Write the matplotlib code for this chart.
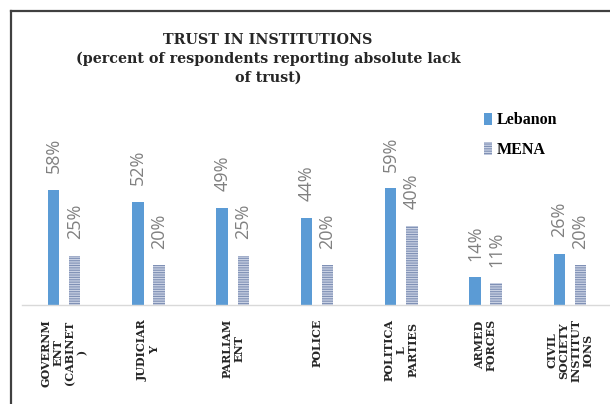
import matplotlib
matplotlib.use("Agg")
import matplotlib.pyplot as plt
from matplotlib.lines import Line2D
import numpy as np

# Trust in institutions data (percent reporting absolute lack of trust)
categories = ["GOVERNM\nENT\n(CABINET\n)", "JUDICIAR\nY", "PARLIAM\nENT", "POLICE",
              "POLITICA\nL\nPARTIES", "ARMED\nFORCES", "CIVIL\nSOCIETY\nINSTITUT\nIONS"]
lebanon = [58, 52, 49, 44, 59, 14, 26]
mena = [25, 20, 25, 20, 40, 11, 20]

LEB_COLOR = '#5b9bd5'
MENA_FACE = '#c9d1e3'
MENA_LINES = '#7f90b5'
LABEL_GRAY = '#808080'

plt.rcParams['hatch.linewidth'] = 0.8

fig = plt.figure(figsize=(6.10, 4.04), dpi=100)
ax = fig.add_axes([22 / 610, 99 / 404, 590 / 610, 138.6 / 404])

x = np.arange(len(categories))
w = 0.136
off = 0.125

b1 = ax.bar(x - off, lebanon, w, color=LEB_COLOR, label='Lebanon')
b2 = ax.bar(x + off, mena, w, color=MENA_FACE, edgecolor=MENA_LINES,
            linewidth=0, hatch='-------', label='MENA')

# rotated value labels above each bar
for bars, vals in ((b1, lebanon), (b2, mena)):
    for rect, v in zip(bars, vals):
        ax.annotate(f"{v}%", (rect.get_x() + rect.get_width() / 2, v),
                    xytext=(0, 12), textcoords='offset points',
                    rotation=90, ha='center', va='bottom',
                    fontsize=13, color=LABEL_GRAY, family='Open Sans')

ax.set_xlim(-0.5, len(categories) - 0.5)
ax.set_ylim(0, 70)
ax.set_yticks([])
ax.set_xticks(x)
ax.set_xticklabels(categories, rotation=90, ha='center', va='top',
                   multialignment='center', fontsize=8, fontweight='bold',
                   family='DejaVu Serif', linespacing=1.1, color='#262626')
ax.tick_params(axis='x', length=0, pad=10)
for s in ('top', 'right', 'left'):
    ax.spines[s].set_visible(False)
ax.spines['bottom'].set_color('#d9d9d9')
ax.spines['bottom'].set_linewidth(1)

fig.text(268 / 610, 1 - 59 / 404,
         "TRUST IN INSTITUTIONS\n(percent of respondents reporting absolute lack\nof trust)",
         ha='center', va='center', multialignment='center', fontsize=10.3,
         fontweight='bold', family='DejaVu Serif', linespacing=1.42,
         color='#262626')

leg = fig.legend(handles=[b1, b2], loc='upper left',
                 bbox_to_anchor=(470 / 610, 1 - 98 / 404), frameon=False,
                 prop={'family': 'Liberation Serif', 'weight': 'bold', 'size': 11.5},
                 handlelength=0.5, handleheight=0.8, handletextpad=0.25,
                 labelspacing=0.85)

# chart frame border (left and top edges visible)
fig.add_artist(Line2D([11 / 610, 11 / 610], [0, 1 - 11 / 404],
                      color='#404040', lw=1.6, transform=fig.transFigure))
fig.add_artist(Line2D([11 / 610, 1], [1 - 11 / 404, 1 - 11 / 404],
                      color='#404040', lw=1.6, transform=fig.transFigure))

fig.savefig('out.png', dpi=100)
